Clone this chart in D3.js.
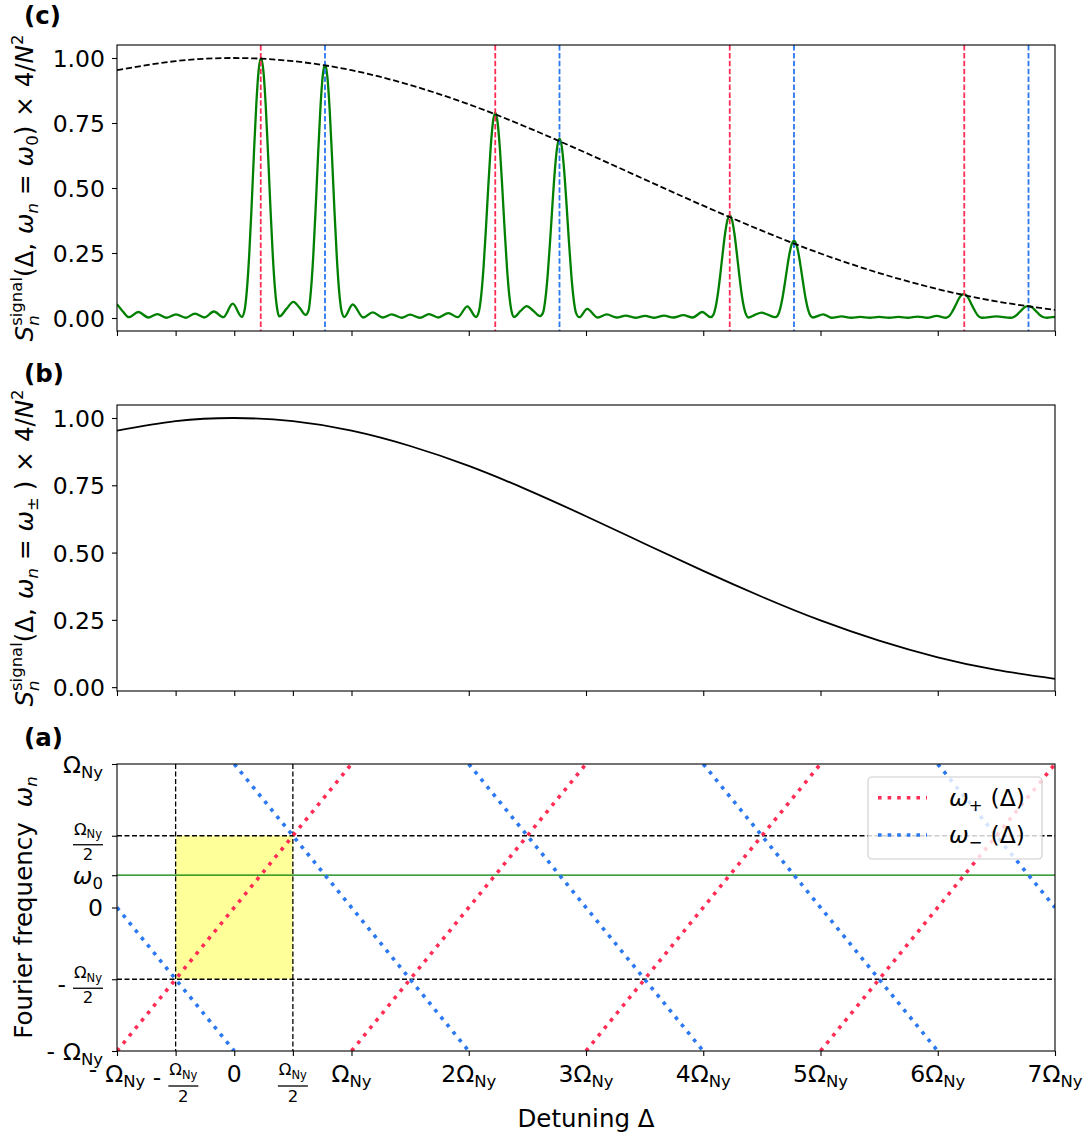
<!DOCTYPE html>
<html><head><meta charset="utf-8">
<script src="https://cdn.jsdelivr.net/npm/d3@7"></script>
<style>
body{margin:0;background:#fff;}
svg{display:block;}
text{font-family:"DejaVu Sans",sans-serif;fill:#000;white-space:pre;}
</style>
</head><body>
<svg id="chart" width="1088" height="1138"></svg>
<script>
// ---------------- DATA ----------------
const omega0 = 0.225;                                   // ω0 in units of Ω_Ny
const xTickValues = [-1, -0.5, 0, 0.5, 1, 2, 3, 4, 5, 6, 7];
const yTickValuesS = [0, 0.25, 0.5, 0.75, 1];
const yTickValuesA = [-1, -0.5, 0, omega0, 0.5, 1];

// envelope S(Δ, ω_n = ω±) × 4/N² (panel b, dashed in panel c)
const envelopeDelta = [-1, -0.5, 0, 0.5, 1, 1.5, 2, 2.5, 3, 3.5, 4, 4.5, 5, 5.5, 6, 6.5, 7];
const envelopeValue = [0.953, 0.988, 1.0, 0.988, 0.953, 0.896, 0.822, 0.733, 0.635, 0.533, 0.432, 0.336, 0.248, 0.173, 0.111, 0.064, 0.031];

// signal S(Δ, ω_n = ω0) × 4/N² (panel c, green) as [Δ, value]
const signalPoints = [
  [-1.000,0.053],[-0.950,0.025],[-0.898,0.003],[-0.818,0.023],[-0.733,0.002],[-0.656,0.015],[-0.576,0.001],
  [-0.497,0.014],[-0.414,0.001],[-0.335,0.017],[-0.255,0.002],[-0.173,0.025],[-0.093,0.003],[-0.013,0.055],
  [0.064,0.004],[0.088,0.030],[0.108,0.109],[0.128,0.246],[0.148,0.430],[0.168,0.634],[0.188,0.821],[0.208,0.952],
  [0.228,1.000],[0.248,0.952],[0.268,0.821],[0.288,0.634],[0.308,0.430],[0.328,0.246],[0.348,0.109],[0.368,0.030],
  [0.385,0.006],[0.445,0.035],[0.504,0.062],[0.560,0.038],[0.609,0.012],
  [0.634,0.029],[0.654,0.106],[0.674,0.240],[0.694,0.419],[0.714,0.618],[0.734,0.800],[0.754,0.928],[0.774,0.975],
  [0.794,0.928],[0.814,0.800],[0.834,0.618],[0.854,0.419],[0.874,0.240],[0.894,0.106],[0.914,0.029],[0.939,0.004],
  [1.010,0.052],[1.101,0.002],[1.181,0.022],[1.266,0.002],[1.343,0.014],[1.428,0.001],[1.499,0.013],[1.584,0.001],
  [1.661,0.015],[1.740,0.002],[1.826,0.019],[1.906,0.003],[1.988,0.045],[2.062,0.004],
  [2.086,0.024],[2.106,0.086],[2.126,0.194],[2.146,0.340],[2.166,0.501],[2.186,0.649],[2.206,0.752],[2.226,0.790],
  [2.246,0.752],[2.266,0.649],[2.286,0.501],[2.306,0.340],[2.326,0.194],[2.346,0.086],[2.366,0.024],[2.386,0.004],
  [2.440,0.026],[2.494,0.046],[2.550,0.028],[2.608,0.007],
  [2.634,0.021],[2.654,0.075],[2.674,0.170],[2.694,0.297],[2.714,0.437],[2.734,0.566],[2.754,0.657],[2.774,0.690],
  [2.794,0.657],[2.814,0.566],[2.834,0.437],[2.854,0.297],[2.874,0.170],[2.894,0.075],[2.914,0.021],[2.943,0.003],
  [3.010,0.035],[3.100,0.002],[3.177,0.014],[3.262,0.002],[3.339,0.009],[3.420,0.001],[3.503,0.008],[3.585,0.001],
  [3.665,0.009],[3.745,0.002],[3.830,0.011],[3.910,0.002],[3.992,0.023],[4.063,0.003],
  [4.086,0.012],[4.106,0.043],[4.126,0.097],[4.146,0.170],[4.166,0.250],[4.186,0.324],[4.206,0.376],[4.226,0.395],
  [4.246,0.376],[4.266,0.324],[4.286,0.250],[4.306,0.170],[4.326,0.097],[4.346,0.043],[4.366,0.012],[4.385,0.002],
  [4.440,0.012],[4.498,0.021],[4.555,0.012],[4.612,0.003],
  [4.634,0.009],[4.654,0.032],[4.674,0.073],[4.694,0.128],[4.714,0.188],[4.734,0.244],[4.754,0.283],[4.774,0.297],
  [4.794,0.283],[4.814,0.244],[4.834,0.188],[4.854,0.128],[4.874,0.073],[4.894,0.032],[4.914,0.009],[4.935,0.002],
  [5.024,0.014],[5.095,0.001],[5.180,0.006],[5.262,0.001],[5.340,0.004],[5.420,0.001],[5.500,0.004],[5.585,0.001],
  [5.665,0.004],[5.745,0.001],[5.830,0.005],[5.910,0.001],[5.991,0.008],[6.070,0.001],
  [6.082,0.003],[6.102,0.010],[6.122,0.023],[6.142,0.040],[6.162,0.058],[6.182,0.076],[6.202,0.088],[6.222,0.092],
  [6.242,0.088],[6.262,0.076],[6.282,0.058],[6.302,0.040],[6.322,0.023],[6.342,0.010],[6.362,0.003],[6.380,0.001],
  [6.500,0.006],[6.620,0.001],
  [6.652,0.005],[6.672,0.011],[6.692,0.020],[6.712,0.029],[6.732,0.038],[6.752,0.044],[6.772,0.046],
  [6.792,0.044],[6.812,0.038],[6.832,0.029],[6.852,0.020],[6.872,0.011],[6.892,0.005],[6.930,0.001],[7.000,0.004]
];

const redPeakDelta  = [0.226, 2.226, 4.226, 6.226];     // ω+ (Δ) = ω0
const bluePeakDelta = [0.774, 2.774, 4.774, 6.774];     // ω− (Δ) = ω0

// panel a: aliased frequencies, segments [Δ1, ω1, Δ2, ω2]
const omegaPlusSegments  = [[-1,-1,1,1],[1,-1,3,1],[3,-1,5,1],[5,-1,7,1]];
const omegaMinusSegments = [[-1,0,0,-1],[0,1,2,-1],[2,1,4,-1],[4,1,6,-1],[6,1,7,0]];
const nyquistBox = {x0:-0.5, x1:0.5, y0:-0.5, y1:0.5};
const guideX = [-0.5, 0.5];
const guideY = [-0.5, 0.5];

// ---------------- STYLE ----------------
const RED = "#ff2d55", BLUE = "#2b78f0", GREEN = "#008000", YELLOW = "#ffff99";
const FS = 23.5, FSS = 16.5, FSL = 24.5;

const svg = d3.select("#chart");
const X0 = 117, X1 = 1055;
const x = d3.scaleLinear().domain([-1, 7]).range([X0, X1]);
const panels = {
  c: {top: 45, bottom: 331},
  b: {top: 405, bottom: 691},
  a: {top: 764, bottom: 1051}
};
const yC = d3.scaleLinear().domain([-0.05, 1.05]).range([panels.c.bottom, panels.c.top]);
const yB = d3.scaleLinear().domain([-0.0143, 1.0483]).range([panels.b.bottom, panels.b.top]);
const yA = d3.scaleLinear().domain([-1, 1]).range([panels.a.bottom, panels.a.top]);

// -------------- rich text helper --------------
function put(g, p, x0) {
  const t = g.append("text").attr("x", x0).attr("y", p.dy || 0)
    .attr("xml:space", "preserve")
    .attr("font-size", p.size || FS)
    .attr("font-style", p.it ? "italic" : null)
    .attr("font-weight", p.bold ? "bold" : null)
    .text(p.t);
  return t.node().getComputedTextLength();
}
function layout(g, pieces, base) {
  let cx = 0;
  pieces.forEach(p => {
    if (p.gap !== undefined) { cx += p.gap; return; }
    if (p.stack) {
      let w = 0;
      p.stack.forEach(q => { w = Math.max(w, put(g, Object.assign({size: base}, q), cx)); });
      cx += w; return;
    }
    if (p.frac) {
      const fg = g.append("g");
      const ng = fg.append("g"), dg = fg.append("g");
      const nw = layout(ng, p.frac.num, FSS), dw = layout(dg, p.frac.den, FSS);
      const bw = Math.max(nw, dw) + 2;
      ng.attr("transform", `translate(${cx + (bw - nw) / 2},${p.frac.numDy})`);
      dg.attr("transform", `translate(${cx + (bw - dw) / 2},${p.frac.denDy})`);
      fg.append("line").attr("x1", cx).attr("x2", cx + bw)
        .attr("y1", p.frac.barDy).attr("y2", p.frac.barDy)
        .attr("stroke", "#000").attr("stroke-width", 1.3);
      cx += bw; return;
    }
    cx += put(g, Object.assign({size: base}, p), cx);
  });
  return cx;
}
function rich(parent, px, py, pieces, anchor, rot, base) {
  const g = parent.append("g").attr("transform", `translate(${px},${py})` + (rot ? ` rotate(${rot})` : ""));
  const inner = g.append("g");
  const w = layout(inner, pieces, base || FS);
  const off = anchor === "end" ? -w : anchor === "middle" ? -w / 2 : 0;
  inner.attr("transform", `translate(${off},0)`);
  return g;
}
const OmegaNy = (s1, s2, d) => [{t: "Ω", size: s1}, {t: "Ny", size: s2, dy: d}];

// -------------- frames, axes --------------
function frame(key) {
  const p = panels[key];
  svg.append("rect").attr("x", X0).attr("y", p.top).attr("width", X1 - X0).attr("height", p.bottom - p.top)
    .attr("fill", "none").attr("stroke", "#000").attr("stroke-width", 1.1);
}
function clip(key) {
  const p = panels[key];
  svg.append("clipPath").attr("id", "clip-" + key).append("rect")
    .attr("x", X0).attr("y", p.top).attr("width", X1 - X0).attr("height", p.bottom - p.top);
  return svg.append("g").attr("clip-path", `url(#clip-${key})`);
}
function xTicks(key) {
  const p = panels[key];
  const ax = d3.axisBottom(x).tickValues(xTickValues).tickSize(5).tickSizeOuter(0).tickFormat("");
  const g = svg.append("g").attr("transform", `translate(0,${p.bottom})`).call(ax);
  g.select(".domain").remove();
  g.selectAll(".tick line").attr("stroke", "#000").attr("stroke-width", 1.1);
}
function yTicks(y, values, fmt) {
  const ax = d3.axisLeft(y).tickValues(values).tickSize(5).tickSizeOuter(0).tickPadding(7)
    .tickFormat(fmt || "");
  const g = svg.append("g").attr("transform", `translate(${X0},0)`).call(ax);
  g.select(".domain").remove();
  g.selectAll(".tick line").attr("stroke", "#000").attr("stroke-width", 1.1);
  g.selectAll(".tick text").attr("font-size", FS).attr("font-family", "DejaVu Sans")
    .attr("fill", "#000").attr("dy", "0.36em");
}

// ================= PANEL (c) =================
const envPts = envelopeDelta.map((d, i) => [d, envelopeValue[i]]);
{
  const g = clip("c");
  g.append("path").datum(signalPoints)
    .attr("d", d3.line().x(d => x(d[0])).y(d => yC(d[1])).curve(d3.curveMonotoneX))
    .attr("fill", "none").attr("stroke", GREEN).attr("stroke-width", 2.3);
  g.selectAll(".vr").data(redPeakDelta).enter().append("line")
    .attr("x1", d => x(d)).attr("x2", d => x(d)).attr("y1", panels.c.top).attr("y2", panels.c.bottom)
    .attr("stroke", RED).attr("stroke-width", 1.8).attr("stroke-dasharray", "5.5,2.4");
  g.selectAll(".vb").data(bluePeakDelta).enter().append("line")
    .attr("x1", d => x(d)).attr("x2", d => x(d)).attr("y1", panels.c.top).attr("y2", panels.c.bottom)
    .attr("stroke", BLUE).attr("stroke-width", 1.8).attr("stroke-dasharray", "5.5,2.4");
  g.append("path").datum(envPts)
    .attr("d", d3.line().x(d => x(d[0])).y(d => yC(d[1])).curve(d3.curveNatural))
    .attr("fill", "none").attr("stroke", "#000").attr("stroke-width", 1.8).attr("stroke-dasharray", "6.2,2.8");
  frame("c"); xTicks("c"); yTicks(yC, yTickValuesS, d3.format(".2f"));
}

// ================= PANEL (b) =================
{
  const g = clip("b");
  g.append("path").datum(envPts)
    .attr("d", d3.line().x(d => x(d[0])).y(d => yB(d[1])).curve(d3.curveNatural))
    .attr("fill", "none").attr("stroke", "#000").attr("stroke-width", 1.8);
  frame("b"); xTicks("b"); yTicks(yB, yTickValuesS, d3.format(".2f"));
}

// ================= PANEL (a) =================
{
  const g = clip("a");
  g.append("rect").attr("x", x(nyquistBox.x0)).attr("y", yA(nyquistBox.y1))
    .attr("width", x(nyquistBox.x1) - x(nyquistBox.x0)).attr("height", yA(nyquistBox.y0) - yA(nyquistBox.y1))
    .attr("fill", YELLOW);
  g.selectAll(".gx").data(guideX).enter().append("line")
    .attr("x1", d => x(d)).attr("x2", d => x(d)).attr("y1", panels.a.top).attr("y2", panels.a.bottom)
    .attr("stroke", "#000").attr("stroke-width", 1.3).attr("stroke-dasharray", "5,2.5");
  g.selectAll(".gy").data(guideY).enter().append("line")
    .attr("x1", X0).attr("x2", X1).attr("y1", d => yA(d)).attr("y2", d => yA(d))
    .attr("stroke", "#000").attr("stroke-width", 1.3).attr("stroke-dasharray", "5,2.5");
  g.append("line").attr("x1", X0).attr("x2", X1).attr("y1", yA(omega0)).attr("y2", yA(omega0))
    .attr("stroke", GREEN).attr("stroke-width", 1.3);
  const seg = (sel, data, color) => sel.data(data).enter().append("line")
    .attr("x1", d => x(d[0])).attr("y1", d => yA(d[1])).attr("x2", d => x(d[2])).attr("y2", d => yA(d[3]))
    .attr("stroke", color).attr("stroke-width", 3.6).attr("stroke-dasharray", "3.6,6.0");
  seg(g.selectAll(".sp"), omegaPlusSegments, RED);
  seg(g.selectAll(".sm"), omegaMinusSegments, BLUE);
  frame("a"); xTicks("a"); yTicks(yA, yTickValuesA, "");

  // legend
  const lg = svg.append("g");
  lg.append("rect").attr("x", 868).attr("y", 777).attr("width", 174).attr("height", 82).attr("rx", 4)
    .attr("fill", "#fff").attr("fill-opacity", 0.8).attr("stroke", "#cccccc").attr("stroke-width", 1.1);
  [[RED, "+", 797.7], [BLUE, "−", 835]].forEach(([c, s, ly]) => {
    lg.append("line").attr("x1", 878).attr("x2", 927).attr("y1", ly).attr("y2", ly)
      .attr("stroke", c).attr("stroke-width", 3.6).attr("stroke-dasharray", "3.6,6.0");
    rich(lg, 949, ly + 8.3, [{t: "ω", it: true}, {t: s, size: FSS, dy: 5}, {gap: 8}, {t: "(Δ)"}], "start", 0, FS);
  });
}

// -------- tick labels panel (a) --------
const xBase = 1082;
const xFrac = {num: OmegaNy(FSS, 11.5, 3.5), den: [{t: "2"}], numDy: -7, barDy: 4, denDy: 20};
const xLabels = {
  "-1": [{t: "-", dy: -5}, {gap: 8}, ...OmegaNy(FS, FSS, 5)],
  "-0.5": [{t: "-", dy: 3}, {gap: 7}, {frac: xFrac}],
  "0": [{t: "0"}],
  "0.5": [{frac: xFrac}],
  "1": OmegaNy(FS, FSS, 5)
};
xTickValues.forEach(v => {
  const pieces = xLabels[String(v)] || [{t: String(v)}, ...OmegaNy(FS, FSS, 5)];
  rich(svg, x(v), xBase, pieces, "middle", 0, FS);
});
const yFrac = {num: OmegaNy(FSS, 11.5, 3.5), den: [{t: "2"}], numDy: -9.5, barDy: 0.5, denDy: 15.5};
const yLabels = [
  [1, OmegaNy(FS, FSS, 5)],
  [0.5, [{frac: yFrac}]],
  [omega0, [{t: "ω", it: true}, {t: "0", size: FSS, dy: 5}]],
  [0, [{t: "0"}]],
  [-0.5, [{t: "-", dy: 4}, {gap: 7}, {frac: yFrac}]],
  [-1, [{t: "-", dy: -1}, {gap: 8}, ...OmegaNy(FS, FSS, 5)]]
];
yLabels.forEach(([v, pieces]) => rich(svg, 103, yA(v) + 8.5, pieces, "end", 0, FS));

// -------- axis labels --------
const sLabel = (sub) => [
  {t: "S", it: true},
  {stack: [{t: "signal", size: FSS, dy: -11}, {t: "n", it: true, size: FSS, dy: 6}]},
  {t: "(Δ,"}, {gap: 9}, {t: "ω", it: true}, {t: "n", it: true, size: FSS, dy: 5}, {gap: 8}, {t: "="}, {gap: 8},
  {t: "ω", it: true}, ...sub, {t: ")"}, {gap: 9}, {t: "×"}, {gap: 9}, {t: "4/"}, {t: "N", it: true}, {t: "2", size: FSS, dy: -10}
];
rich(svg, 33, (panels.c.top + panels.c.bottom) / 2, sLabel([{t: "0", size: FSS, dy: 5}]), "middle", -90, FSL);
rich(svg, 33, (panels.b.top + panels.b.bottom) / 2, sLabel([{t: "±", size: FSS, dy: 5}, {gap: 7}]), "middle", -90, FSL);
rich(svg, 32, (panels.a.top + panels.a.bottom) / 2,
  [{t: "Fourier frequency"}, {gap: 15}, {t: "ω", it: true}, {t: "n", it: true, size: FSS, dy: 5}], "middle", -90, FSL);
rich(svg, (X0 + X1) / 2, 1127, [{t: "Detuning Δ"}], "middle", 0, FSL);

// -------- panel letters --------
[["(c)", 24], ["(b)", 382], ["(a)", 746]].forEach(([t, yy]) =>
  svg.append("text").attr("x", 24).attr("y", yy).attr("font-size", FSL).attr("font-weight", "bold").text(t));
</script>
</body></html>
